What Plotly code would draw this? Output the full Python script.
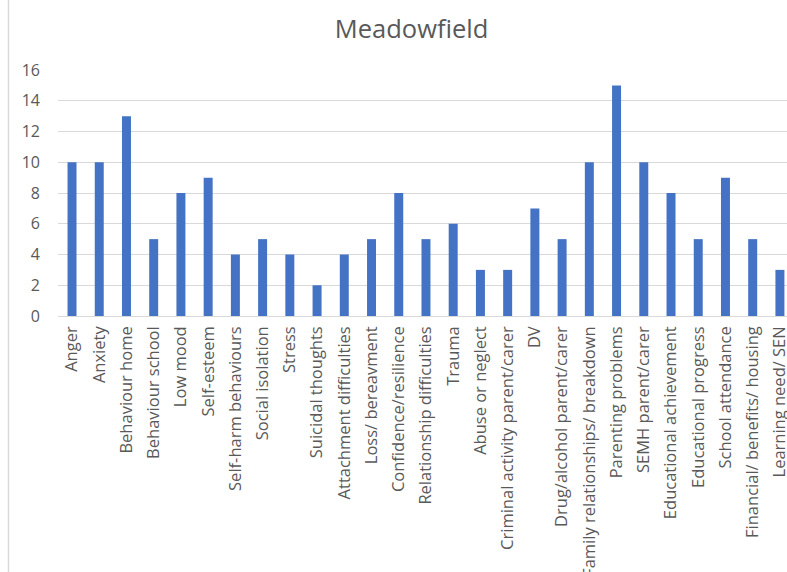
import plotly.graph_objects as go

categories = ["Anger", "Anxiety", "Behaviour home", "Behaviour school", "Low mood", "Self-esteem",
              "Self-harm behaviours", "Social isolation", "Stress", "Suicidal thoughts",
              "Attachment difficulties", "Loss/ bereavment", "Confidence/resilience",
              "Relationship difficulties", "Trauma", "Abuse or neglect",
              "Criminal activity parent/carer", "DV", "Drug/alcohol parent/carer",
              "Family relationships/ breakdown", "Parenting problems", "SEMH parent/carer",
              "Educational achievement", "Educational progress", "School attendance",
              "Financial/ benefits/ housing", "Learning need/ SEN"]
values = [10, 10, 13, 5, 8, 9, 4, 5, 4, 2, 4, 5, 8, 5, 6, 3, 3, 7, 5, 10, 15, 10, 8, 5, 9, 5, 3]
y_ticks = [0, 2, 4, 6, 8, 10, 12, 14, 16]

FONT = "Open Sans"
GRAY = "#595959"

fig = go.Figure(go.Bar(x=categories, y=values, marker_color="#4472C4",
                       marker_line_width=0))

fig.update_layout(
    width=787, height=572,
    margin=dict(l=58, r=0, t=70, b=256),
    paper_bgcolor="white", plot_bgcolor="white",
    bargap=0.67,
    showlegend=False,
    title=dict(text="Meadowfield", x=0.523, xanchor="center", y=1 - 29 / 572, yanchor="middle",
               font=dict(family=FONT, size=25.5, color=GRAY)),
    font=dict(family=FONT, color=GRAY),
)
fig.update_xaxes(range=[-0.515, 26.26], tickangle=-90, tickfont=dict(size=16.5, color=GRAY),
                 showgrid=False, showline=False, ticks="", automargin=False,
                 ticklabelstandoff=6)
fig.update_yaxes(range=[0, 16], tickvals=y_ticks, tickfont=dict(size=16, color=GRAY),
                 showgrid=True, gridcolor="#d9d9d9", gridwidth=1, zeroline=True,
                 zerolinecolor="#d9d9d9", zerolinewidth=1, ticks="", automargin=False,
                 ticklabelstandoff=17)
fig.add_shape(type="line", xref="paper", yref="paper",
              x0=(8.5 - 58) / 729, x1=(8.5 - 58) / 729, y0=-256 / 246, y1=(246 + 70) / 246,
              line=dict(color="#d9d9d9", width=1.5))

fig.write_html("out.html")
